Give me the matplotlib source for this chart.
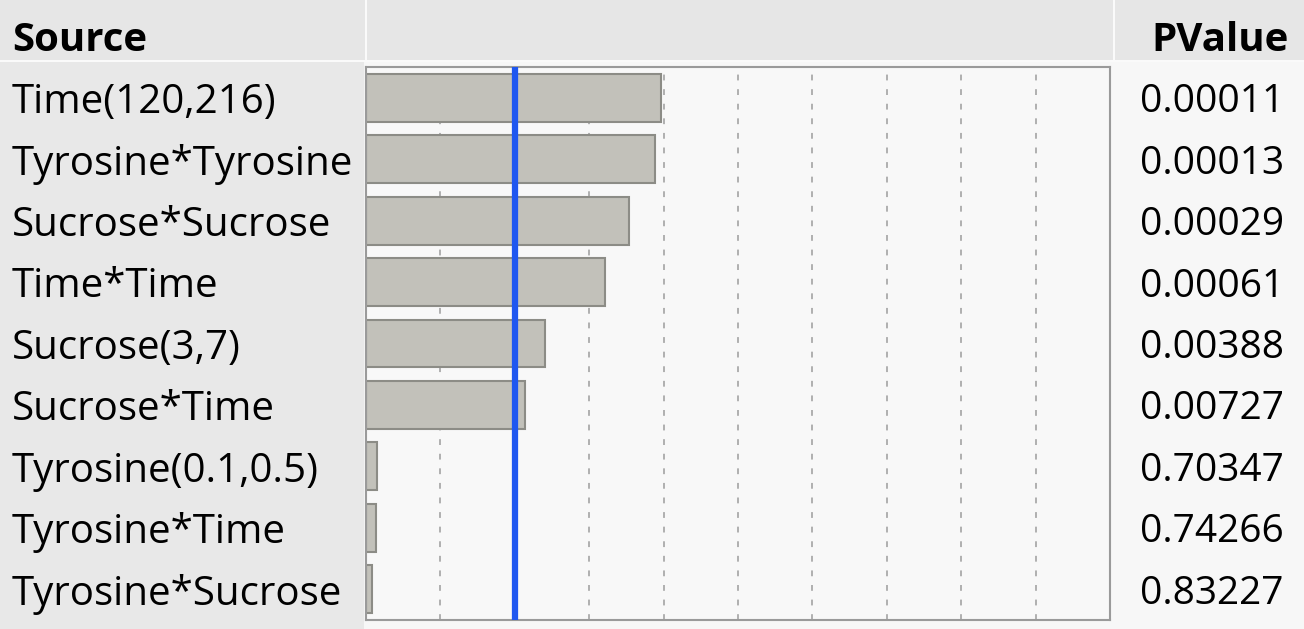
import matplotlib.pyplot as plt
import matplotlib.transforms as mtransforms
from matplotlib.patches import Rectangle

# Effect summary (JMP style)
sources = ["Time(120,216)", "Tyrosine*Tyrosine", "Sucrose*Sucrose", "Time*Time",
           "Sucrose(3,7)", "Sucrose*Time", "Tyrosine(0.1,0.5)", "Tyrosine*Time",
           "Tyrosine*Sucrose"]
pvalues = ["0.00011", "0.00013", "0.00029", "0.00061", "0.00388", "0.00727",
           "0.70347", "0.74266", "0.83227"]
logworth = [3.96, 3.89, 3.54, 3.21, 2.41, 2.14, 0.15, 0.13, 0.08]
ref_line = 2.0
grid_ticks = [1, 2, 3, 4, 5, 6, 7, 8, 9]

W, H = 1304, 629
fig = plt.figure(figsize=(W / 100, H / 100), dpi=100)
fig.patch.set_facecolor("#f7f7f7")

FAM = ["Open Sans", "DejaVu Sans"]

def fx(px):
    return px / W

def fy(py):
    return 1 - py / H

# fondos (zorder negativo para quedar debajo del texto)
fig.patches.append(Rectangle((0, 0), fx(364), 1, transform=fig.transFigure,
                             facecolor="#e8e8e8", edgecolor="none", zorder=-3))
fig.patches.append(Rectangle((0, fy(60)), 1, 60 / H, transform=fig.transFigure,
                             facecolor="#e6e6e6", edgecolor="none", zorder=-2))
fig.patches.append(Rectangle((0, fy(62)), 1, 2 / H, transform=fig.transFigure,
                             facecolor="#fafafa", edgecolor="none", zorder=-1))
for xd in (365, 1113):
    fig.patches.append(Rectangle((fx(xd), fy(60)), 2 / W, 60 / H, transform=fig.transFigure,
                                 facecolor="#fafafa", edgecolor="none", zorder=-1))

fig.text(fx(12), fy(36), "Source", fontsize=29, fontweight="bold",
         family=FAM, ha="left", va="center_baseline")
fig.text(fx(1289), fy(36), "PValue", fontsize=29, fontweight="bold",
         family=FAM, ha="right", va="center_baseline")

# panel
ax = fig.add_axes([fx(366), (H - 620) / H, 744 / W, 553 / H])
ax.set_facecolor("#f8f8f8")
ax.set_xlim(0, 10)
ax.set_ylim(len(sources) - 0.5, -0.5)
ax.set_xticks(grid_ticks)
ax.set_yticks([])
ax.tick_params(axis="x", length=0, labelbottom=False)
ax.grid(axis="x", linestyle=(0, (3, 4.5)), color="#b0b0b0", linewidth=1.4)
ax.set_axisbelow(True)
for sp in ax.spines.values():
    sp.set_color("#9a9a9a")
    sp.set_linewidth(1.5)

ax.barh(range(len(sources)), logworth, height=0.78, color="#c2c1ba",
        edgecolor="#8c8c86", linewidth=1.5, zorder=2)
ax.axvline(ref_line, color="#1f57f0", linewidth=4.5, zorder=3)

trans = mtransforms.blended_transform_factory(fig.transFigure, ax.transData)
for i, (s, p) in enumerate(zip(sources, pvalues)):
    ax.text(fx(12), i, s, transform=trans, fontsize=29, ha="left", va="center_baseline",
            family=FAM, clip_on=False)
    ax.text(fx(1284), i, p, transform=trans, fontsize=28, ha="right", va="center_baseline",
            family=FAM, clip_on=False)

fig.savefig("out.png", dpi=100)
